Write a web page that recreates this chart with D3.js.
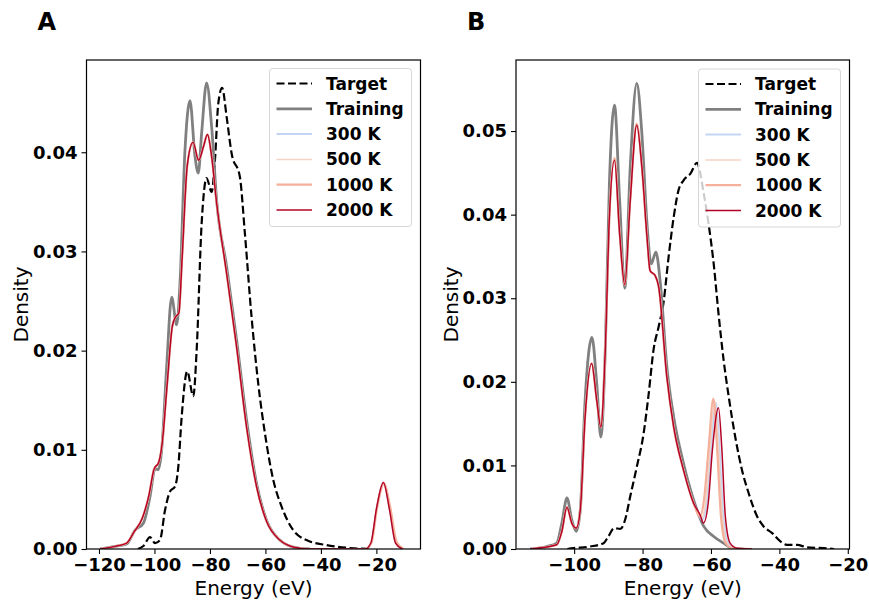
<!DOCTYPE html>
<html>
<head>
<meta charset="utf-8">
<script src="https://cdn.jsdelivr.net/npm/d3@7"></script>
<style>
  body { margin: 0; background: #fff; }
  text { font-family: "DejaVu Sans", sans-serif; }
</style>
</head>
<body>
<svg id="chart" width="869" height="602"></svg>
<script>
// legend entries
var labels = ["Target", "Training", "300 K", "500 K", "1000 K", "2000 K"];
var colors = ["#000000", "#808080", "#c3d5f4", "#f4d3c4", "#f4b09b", "#b40426"];
var widths = [2.2, 2.8, 2, 1.5, 2.2, 1.5];

// panel A : [energy, density]
var aTarget = [[-106,0],[-104,0.0003],[-101.6,0.0012],[-99.8,0.0006],[-98,0.0009],[-96.2,0.0039],[-94.4,0.0058],[-92.6,0.0063],[-91.4,0.0083],[-90.2,0.0133],[-88.2,0.0179],[-86,0.0154],[-84.8,0.0200],[-83,0.0328],[-81.2,0.0374],[-79.4,0.0360],[-78.2,0.0392],[-77,0.0449],[-75.6,0.0465],[-74,0.0436],[-72.2,0.0399],[-69.2,0.0375],[-67.4,0.0318],[-65,0.0234],[-62.6,0.0167],[-60.2,0.0117],[-57.2,0.0070],[-54.2,0.0043],[-50,0.0019],[-45.2,0.0009],[-38,0.0004],[-29.5,0.0001],[-22,0]];
var aTraining = [[-119.6,0],[-113.6,0.0003],[-110,0.0005],[-107,0.0019],[-104,0.0026],[-101.6,0.0053],[-99.8,0.0081],[-98.6,0.0080],[-97.4,0.0100],[-95.6,0.0184],[-93.8,0.0254],[-92,0.0226],[-90.8,0.0268],[-89,0.0402],[-87.2,0.0452],[-85.4,0.0396],[-84.2,0.0379],[-83,0.0419],[-81.2,0.0470],[-79.4,0.0426],[-77.6,0.0352],[-74,0.0285],[-70.4,0.0211],[-66.8,0.0130],[-63.2,0.0066],[-59.6,0.0029],[-54.8,0.0009],[-50,0.0002],[-44,0]];
var a300 = [[-119.6,0],[-113.6,0.0003],[-110,0.0006],[-107.4,0.0017],[-104.4,0.0031],[-102,0.0054],[-100.2,0.0080],[-98.4,0.0088],[-97.2,0.0107],[-95.4,0.0167],[-93.6,0.0224],[-92.4,0.0234],[-91.2,0.0238],[-90,0.0295],[-88.2,0.0386],[-86.1,0.0410],[-84.1,0.0392],[-82.3,0.0406],[-80.9,0.0418],[-79.4,0.0396],[-77.6,0.0349],[-74,0.0278],[-70.4,0.0204],[-66.8,0.0123],[-63.2,0.0063],[-59.6,0.0028],[-54.8,0.0009],[-50,0.0002],[-44,0],[-24,0],[-21.9,0.0006],[-19.8,0.0042],[-17.4,0.0067],[-15.2,0.0040],[-13,0.0006],[-10.5,0]];
var a500 = [[-119.6,0],[-113.6,0.0003],[-110,0.0006],[-107.4,0.0017],[-104.4,0.0031],[-102,0.0054],[-100.2,0.0080],[-98.4,0.0088],[-97.2,0.0107],[-95.4,0.0167],[-93.6,0.0224],[-92.4,0.0234],[-91.2,0.0238],[-90,0.0295],[-88.2,0.0386],[-86.1,0.0410],[-84.1,0.0392],[-82.3,0.0406],[-80.9,0.0418],[-79.4,0.0396],[-77.6,0.0349],[-74,0.0278],[-70.4,0.0204],[-66.8,0.0123],[-63.2,0.0063],[-59.6,0.0028],[-54.8,0.0009],[-50,0.0002],[-44,0],[-24,0],[-21.9,0.0006],[-19.8,0.0042],[-17.4,0.0067],[-15.2,0.0041],[-12.9,0.0006],[-10.4,0]];
var a1000 = [[-119.6,0],[-113.6,0.0003],[-110,0.0006],[-107.4,0.0017],[-104.4,0.0031],[-102,0.0054],[-100.2,0.0080],[-98.4,0.0088],[-97.2,0.0107],[-95.4,0.0167],[-93.6,0.0224],[-92.4,0.0234],[-91.2,0.0238],[-90,0.0295],[-88.2,0.0386],[-86.1,0.0410],[-84.1,0.0392],[-82.3,0.0406],[-80.9,0.0418],[-79.4,0.0396],[-77.6,0.0349],[-74,0.0278],[-70.4,0.0204],[-66.8,0.0123],[-63.2,0.0063],[-59.6,0.0028],[-54.8,0.0009],[-50,0.0002],[-44,0],[-24,0],[-21.8,0.0006],[-19.7,0.0042],[-17.3,0.0066],[-15,0.0042],[-12.7,0.0007],[-10.2,0]];
var a2000 = [[-119.6,0],[-113.6,0.0003],[-110,0.0006],[-107.4,0.0017],[-104.4,0.0031],[-102,0.0054],[-100.2,0.0080],[-98.4,0.0088],[-97.2,0.0107],[-95.4,0.0167],[-93.6,0.0224],[-92.4,0.0234],[-91.2,0.0238],[-90,0.0295],[-88.2,0.0386],[-86.1,0.0410],[-84.1,0.0392],[-82.3,0.0406],[-80.9,0.0418],[-79.4,0.0396],[-77.6,0.0349],[-74,0.0278],[-70.4,0.0204],[-66.8,0.0123],[-63.2,0.0063],[-59.6,0.0028],[-54.8,0.0009],[-50,0.0002],[-44,0],[-24,0],[-22,0.0006],[-19.9,0.0042],[-17.5,0.0067],[-15.3,0.0040],[-13.1,0.0006],[-10.6,0]];

// panel B : [energy, density]
var bTarget = [[-102,0],[-100.2,0.0001],[-95.3,0.0003],[-91.4,0.0007],[-90,0.0015],[-88.3,0.0025],[-86.5,0.0024],[-85.1,0.0035],[-83.6,0.0063],[-81.7,0.0098],[-79.7,0.0138],[-78.2,0.0186],[-76.8,0.0238],[-75.3,0.0266],[-73.9,0.0294],[-72.4,0.0349],[-70.9,0.0397],[-69.5,0.0429],[-68,0.0441],[-66,0.0449],[-64.1,0.0462],[-62.1,0.0425],[-60.7,0.0389],[-59.2,0.0341],[-57.8,0.0282],[-56.3,0.0226],[-54.8,0.0182],[-52.9,0.0134],[-50.9,0.0094],[-49,0.0067],[-46.5,0.0039],[-44.6,0.0027],[-42.1,0.0019],[-39.7,0.0009],[-37.8,0.0005],[-34.8,0.0005],[-31.9,0.0002],[-27,0.0001],[-24,0]];
var bTraining = [[-112.9,0],[-108,0.0003],[-105.1,0.0007],[-103.6,0.0031],[-102.1,0.0061],[-100.7,0.0035],[-99.4,0.0021],[-98.2,0.0047],[-96.8,0.0178],[-94.8,0.0253],[-93.4,0.0198],[-92.2,0.0134],[-90.9,0.0238],[-89.7,0.0437],[-88.2,0.0531],[-86.7,0.0417],[-85.2,0.0312],[-83.6,0.0457],[-81.7,0.0557],[-80.2,0.0497],[-78.7,0.0389],[-77.5,0.0341],[-76.1,0.0355],[-74.8,0.0318],[-72.9,0.0218],[-70.9,0.0158],[-68,0.0102],[-65.1,0.0059],[-62.1,0.0027],[-59.2,0.0015],[-56.3,0.0007],[-53.9,0.0001],[-50.5,0]];
var b300 = [[-112.9,0],[-105.1,0.0005],[-103.6,0.0021],[-102.1,0.0050],[-100.7,0.0031],[-99.4,0.0025],[-98.2,0.0047],[-96.8,0.0158],[-94.9,0.0222],[-93.4,0.0178],[-92.2,0.0146],[-90.9,0.0238],[-89.7,0.0397],[-88.2,0.0467],[-86.7,0.0377],[-85.2,0.0316],[-83.6,0.0417],[-81.7,0.0508],[-80.2,0.0457],[-78.7,0.0373],[-77.8,0.0333],[-76.3,0.0327],[-75.3,0.0314],[-72.9,0.0206],[-70.9,0.0146],[-68,0.0094],[-65.1,0.0055],[-63.5,0.0041],[-62.6,0.0035],[-61.2,0.0058],[-60,0.0120],[-58.6,0.0175],[-57.5,0.0120],[-56.4,0.0040],[-55,0.0007],[-53,0.0001],[-48,0]];
var b500 = [[-112.9,0],[-105.1,0.0005],[-103.6,0.0021],[-102.1,0.0050],[-100.7,0.0031],[-99.4,0.0025],[-98.2,0.0047],[-96.8,0.0158],[-94.9,0.0222],[-93.4,0.0178],[-92.2,0.0146],[-90.9,0.0238],[-89.7,0.0397],[-88.2,0.0467],[-86.7,0.0377],[-85.2,0.0316],[-83.6,0.0417],[-81.7,0.0508],[-80.2,0.0457],[-78.7,0.0373],[-77.8,0.0333],[-76.3,0.0327],[-75.3,0.0314],[-72.9,0.0206],[-70.9,0.0146],[-68,0.0094],[-65.1,0.0055],[-63.6,0.0042],[-62.8,0.0037],[-61.5,0.0058],[-60.3,0.0120],[-58.9,0.0177],[-57.8,0.0120],[-56.7,0.0040],[-55.3,0.0007],[-53.3,0.0001],[-48,0]];
var b1000 = [[-112.9,0],[-105.1,0.0005],[-103.6,0.0021],[-102.1,0.0050],[-100.7,0.0031],[-99.4,0.0025],[-98.2,0.0047],[-96.8,0.0158],[-94.9,0.0222],[-93.4,0.0178],[-92.2,0.0146],[-90.9,0.0238],[-89.7,0.0398],[-88.2,0.0468],[-86.7,0.0378],[-85.2,0.0316],[-83.6,0.0418],[-81.7,0.0509],[-80.2,0.0457],[-78.7,0.0373],[-77.8,0.0333],[-76.3,0.0327],[-75.3,0.0314],[-72.9,0.0206],[-70.9,0.0146],[-68,0.0094],[-65.1,0.0055],[-64,0.0043],[-63.2,0.0039],[-62,0.0060],[-60.7,0.0120],[-59.3,0.0180],[-58.2,0.0120],[-57.1,0.0040],[-55.7,0.0007],[-53.7,0.0001],[-48,0]];
var b2000 = [[-112.9,0],[-105.1,0.0005],[-103.6,0.0021],[-102.1,0.0050],[-100.7,0.0031],[-99.4,0.0025],[-98.2,0.0047],[-96.8,0.0158],[-94.9,0.0222],[-93.4,0.0178],[-92.2,0.0146],[-90.9,0.0238],[-89.7,0.0397],[-88.2,0.0465],[-86.7,0.0377],[-85.2,0.0316],[-83.6,0.0417],[-81.7,0.0507],[-80.2,0.0457],[-78.7,0.0373],[-77.8,0.0333],[-76.3,0.0327],[-75.3,0.0314],[-72.9,0.0206],[-70.9,0.0146],[-68,0.0094],[-65.1,0.0055],[-63.2,0.0041],[-62.2,0.0031],[-60.8,0.0055],[-59.6,0.0118],[-57.8,0.0169],[-56.8,0.0118],[-55.8,0.0039],[-54.4,0.0007],[-52.4,0.0001],[-48,0]];

var xTicksA = [-120, -100, -80, -60, -40, -20];
var xTicksB = [-100, -80, -60, -40, -20];
var yTicksA = [0, 0.01, 0.02, 0.03, 0.04];
var yTicksB = [0, 0.01, 0.02, 0.03, 0.04, 0.05];

var svg = d3.select("#chart");
var top_ = 60, bottom = 549;

var panels = [
  {name: "A", left: 86.5, right: 420.5, xdom: [-124.5, -4.1], ydom: [0, 0.0493],
   xticks: xTicksA, yticks: yTicksA, series: [aTarget, aTraining, a300, a500, a1000, a2000],
   legend: {x: 269.5, y: 68.5, w: 142, h: 158}},
  {name: "B", left: 516, right: 849.5, xdom: [-117, -19.5], ydom: [0, 0.0585],
   xticks: xTicksB, yticks: yTicksB, series: [bTarget, bTraining, b300, b500, b1000, b2000],
   legend: {x: 698.5, y: 69, w: 142, h: 158}}
];

panels.forEach(function (p) {
  var x = d3.scaleLinear().domain(p.xdom).range([p.left, p.right]);
  var y = d3.scaleLinear().domain(p.ydom).range([bottom, top_]);
  var g = svg.append("g");

  var clipId = "clip" + p.name;
  g.append("clipPath").attr("id", clipId)
    .append("rect").attr("x", p.left).attr("y", top_)
    .attr("width", p.right - p.left).attr("height", bottom - top_);

  var line = d3.line()
    .x(function (d) { return x(d[0]); })
    .y(function (d) { return y(d[1]); })
    .curve(d3.curveMonotoneX);

  var lines = g.append("g").attr("clip-path", "url(#" + clipId + ")");
  p.series.forEach(function (s, i) {
    lines.append("path")
      .attr("d", line(s))
      .attr("fill", "none")
      .attr("stroke", colors[i])
      .attr("stroke-width", widths[i])
      .attr("stroke-linejoin", "round")
      .attr("stroke-dasharray", i === 0 ? "8,3.5" : null);
  });

  // axes
  var xAxis = d3.axisBottom(x).tickValues(p.xticks).tickSize(5).tickPadding(4)
    .tickFormat(d3.format("d"));
  var yAxis = d3.axisLeft(y).tickValues(p.yticks).tickSize(5).tickPadding(4)
    .tickFormat(d3.format(".2f"));

  var gx = g.append("g").attr("transform", "translate(0," + bottom + ")").call(xAxis);
  var gy = g.append("g").attr("transform", "translate(" + p.left + ",0)").call(yAxis);
  [gx, gy].forEach(function (a) {
    a.select(".domain").remove();
    a.selectAll(".tick line").attr("stroke", "#000").attr("stroke-width", 1.1);
    a.selectAll(".tick text").attr("font-size", 18).attr("font-weight", "bold")
      .attr("fill", "#000").style("font-family", "DejaVu Sans");
  });

  // frame
  g.append("rect").attr("x", p.left).attr("y", top_)
    .attr("width", p.right - p.left).attr("height", bottom - top_)
    .attr("fill", "none").attr("stroke", "#000").attr("stroke-width", 1.2);

  // labels
  g.append("text").attr("x", (p.left + p.right) / 2).attr("y", 595)
    .attr("text-anchor", "middle").attr("font-size", 20).text("Energy (eV)");
  g.append("text")
    .attr("transform", "translate(" + (p.left - 58.5) + "," + ((top_ + bottom) / 2) + ") rotate(-90)")
    .attr("text-anchor", "middle").attr("font-size", 20).text("Density");
  g.append("text").attr("x", p.left - 49).attr("y", 29.5)
    .attr("font-size", 24).attr("font-weight", "bold").text(p.name);

  // legend
  var L = p.legend;
  var lg = g.append("g");
  lg.append("rect").attr("x", L.x).attr("y", L.y).attr("width", L.w).attr("height", L.h)
    .attr("rx", 3).attr("fill", "#fff").attr("fill-opacity", 0.8)
    .attr("stroke", "#d6d6d6").attr("stroke-width", 1);
  labels.forEach(function (lab, i) {
    var yy = L.y + 15 + i * 25.3;
    lg.append("line").attr("x1", L.x + 7).attr("x2", L.x + 42.5)
      .attr("y1", yy).attr("y2", yy)
      .attr("stroke", colors[i]).attr("stroke-width", widths[i])
      .attr("stroke-dasharray", i === 0 ? "8,3.5" : null);
    lg.append("text").attr("x", L.x + 56.5).attr("y", yy + 6)
      .attr("font-size", 17).attr("font-weight", "bold").text(lab);
  });
});
</script>
</body>
</html>
